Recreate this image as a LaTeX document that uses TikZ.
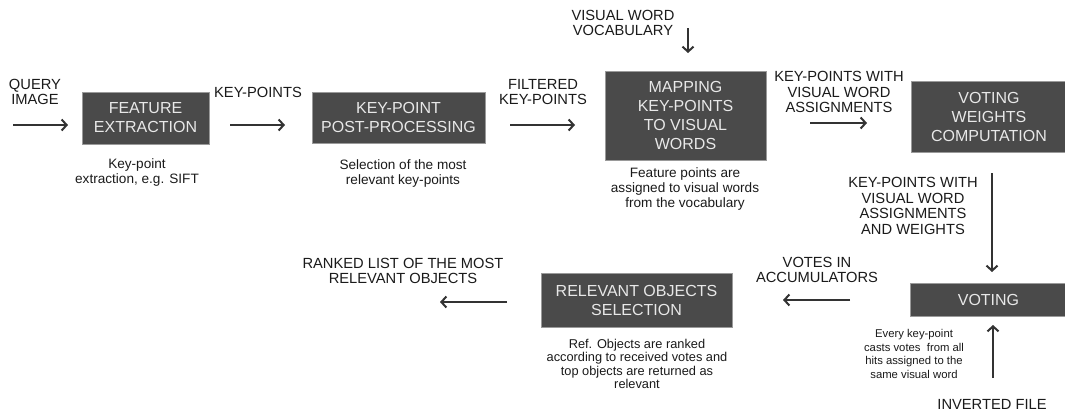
\documentclass[tikz,border=0pt]{standalone}
\usepackage{fontspec}
\setmainfont{Liberation Sans}
\usetikzlibrary{arrows.meta}
\definecolor{boxfill}{HTML}{4A4A4A}
\definecolor{boxline}{HTML}{9A9A9A}
\definecolor{boxtext}{HTML}{E8E8E8}
\definecolor{arrowcol}{HTML}{333333}
\definecolor{txtcol}{HTML}{1A1A1A}
\tikzset{
  procbox/.style={draw=boxline, line width=1pt, fill=boxfill, text=boxtext, inner sep=0pt,
    align=center, font=\fontsize{16}{19}\selectfont},
  lbl/.style={align=center, text=txtcol, inner sep=0pt, font=\fontsize{14.7}{15.8}\selectfont},
  note/.style={align=center, text=txtcol, inner sep=0pt, font=\fontsize{13.6}{15}\selectfont},
  notemid/.style={align=center, text=txtcol, inner sep=0pt, font=\fontsize{12.8}{13.4}\selectfont},
  notesmall/.style={align=center, text=txtcol, inner sep=0pt, font=\fontsize{11.3}{13.5}\selectfont},
  flow/.style={draw=arrowcol, line width=2.2pt, -{Straight Barb[length=5pt,width=11pt,line width=2pt]}}
}
\begin{document}
\begin{tikzpicture}[x=1pt,y=-1pt]
\useasboundingbox (0,0) rectangle (1065,413);
% boxes
\node[procbox, minimum width=127pt, minimum height=52pt] (fe) at (145.5,118) {FEATURE\\EXTRACTION};
\node[procbox, minimum width=173pt, minimum height=51pt] (kp) at (398.5,117.5) {KEY-POINT\\POST-PROCESSING};
\node[procbox, minimum width=161pt, minimum height=89pt] (map) at (685.5,115.5) {MAPPING\\KEY-POINTS\\TO VISUAL\\WORDS};
\node[procbox, minimum width=155pt, minimum height=71pt] (vw) at (989,116.5) {VOTING\\WEIGHTS\\COMPUTATION};
\node[procbox, minimum width=156pt, minimum height=33pt] (vot) at (988.5,299.5) {VOTING};
\node[procbox, minimum width=191pt, minimum height=54pt] (ros) at (636.5,300) {RELEVANT OBJECTS\\SELECTION};
% labels
\node[lbl] (lq) at (35,92) {QUERY\\IMAGE};
\node[lbl] (lkp) at (258,92) {KEY-POINTS};
\node[lbl] (lfk) at (543,92) {FILTERED\\KEY-POINTS};
\node[lbl] (lvv) at (623,23) {VISUAL WORD\\VOCABULARY};
\node[lbl] (lkw) at (839,92) {KEY-POINTS WITH\\VISUAL WORD\\ASSIGNMENTS};
\node[lbl] (lkw2) at (913,206) {KEY-POINTS WITH\\VISUAL WORD\\ASSIGNMENTS\\AND WEIGHTS};
\node[lbl] (lva) at (817,270) {VOTES IN\\ACCUMULATORS};
\node[lbl] (lrl) at (403,271) {RANKED LIST OF THE MOST\\RELEVANT OBJECTS};
\node[lbl] (lif) at (992,404) {INVERTED FILE};
% notes
\node[note] (nfe) at (137,172) {Key-point\\extraction, e.g. SIFT};
\node[note] (nkp) at (403,173.5) {Selection of the most\\relevant key-points};
\node[note] (nmap) at (685,189) {Feature points are\\assigned to visual words\\from the vocabulary};
\node[notemid] (nros) at (637,364) {Ref. Objects are ranked\\according to received votes and\\top objects are returned as\\relevant};
\node[notesmall] (nvot) at (914,354) {Every key-point\\casts votes\ \ from all\\hits assigned to the\\same visual word};
% arrow end points
\coordinate (a1s) at (13,125);  \coordinate (a1e) at (68,125);
\coordinate (a2s) at (230,125); \coordinate (a2e) at (285,125);
\coordinate (a3s) at (510,125); \coordinate (a3e) at (575,125);
\coordinate (a4s) at (688,28);  \coordinate (a4e) at (688,53);
\coordinate (a5s) at (810,123); \coordinate (a5e) at (867,123);
\coordinate (a6s) at (992,173); \coordinate (a6e) at (992,272);
\coordinate (a7s) at (850,300); \coordinate (a7e) at (783,300);
\coordinate (a8s) at (507,302); \coordinate (a8e) at (440,302);
\coordinate (a9s) at (993,378); \coordinate (a9e) at (993,325);
\draw[flow] (a1s) -- (a1e);
\draw[flow] (a2s) -- (a2e);
\draw[flow] (a3s) -- (a3e);
\draw[flow] (a4s) -- (a4e);
\draw[flow] (a5s) -- (a5e);
\draw[flow] (a6s) -- (a6e);
\draw[flow] (a7s) -- (a7e);
\draw[flow] (a8s) -- (a8e);
\draw[flow] (a9s) -- (a9e);
\end{tikzpicture}
\end{document}
